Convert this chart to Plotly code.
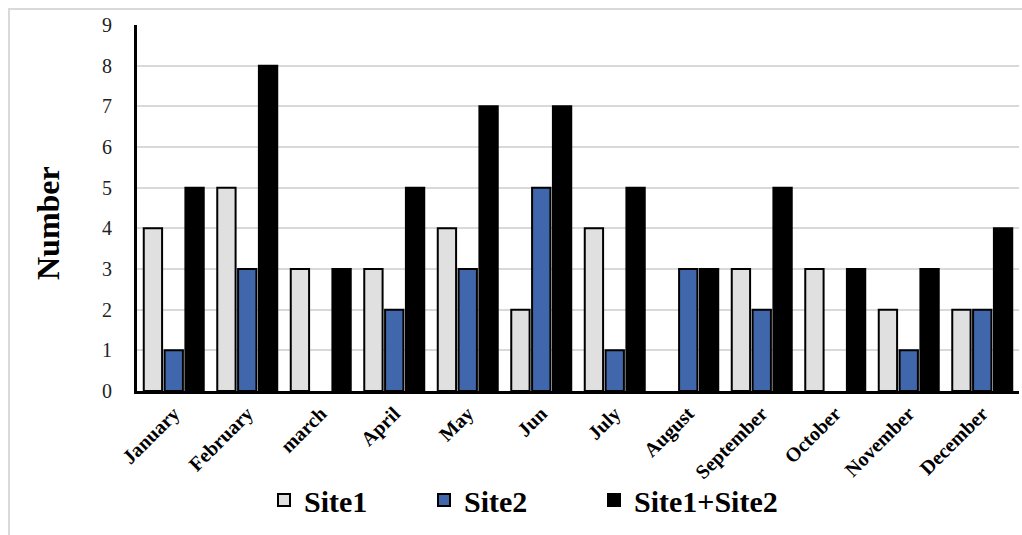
import plotly.graph_objects as go

months = ["January", "February", "march", "April", "May", "Jun", "July",
          "August", "September", "October", "November", "December"]
site1 = [4, 5, 3, 3, 4, 2, 4, 0, 3, 3, 2, 2]
site2 = [1, 3, 0, 2, 3, 5, 1, 3, 2, 0, 1, 2]
combined = [5, 8, 3, 5, 7, 7, 5, 3, 5, 3, 3, 4]

W, H = 1022, 535
L, R, T, B = 137, 3, 25, 144
PW, PH = W - L - R, H - T - B


def px_x(p):
    return (p - L) / PW


def px_y(p):
    return (H - B - p) / PH


def hide_zero(values):
    # empty months get no bar at all (no outline sitting on the axis)
    return [v if v else None for v in values]


serif = '"Liberation Serif", "Times New Roman", serif'

series = [
    ("Site1", site1, "#e0e0e0", "legend", 264),
    ("Site2", site2, "#4067ac", "legend2", 424),
    ("Site1+Site2", combined, "black", "legend3", 594),
]

fig = go.Figure()
legends = {}
for name, values, color, leg, lx in series:
    fig.add_bar(name=name, x=months, y=hide_zero(values), legend=leg,
                marker=dict(color=color, line=dict(color="black", width=2)))
    legends[leg] = dict(
        orientation="h", x=px_x(lx), xanchor="left",
        y=px_y(500), yanchor="middle", itemwidth=30,
        font=dict(family=serif, size=30, color="black", weight="bold"),
        bgcolor="rgba(0,0,0,0)",
    )

fig.update_layout(
    width=W, height=H,
    margin=dict(l=L, r=R, t=T, b=B),
    paper_bgcolor="white", plot_bgcolor="white",
    barmode="group", bargap=0.15, bargroupgap=0.12,
    font=dict(family=serif, color="black"),
    showlegend=True,
    **legends,
    xaxis=dict(
        tickangle=-45, showgrid=False, ticks="",
        showline=True, linecolor="black", linewidth=3,
        tickfont=dict(family=serif, size=20, color="black", weight="bold"),
    ),
    yaxis=dict(
        range=[0, 9], dtick=1, tick0=0, ticks="",
        showline=True, linecolor="black", linewidth=3,
        showgrid=True, gridcolor="#d9d9d9", gridwidth=1.5,
        zeroline=False,
        ticklabelstandoff=18,
        tickfont=dict(family=serif, size=20, color="#222222"),
    ),
    annotations=[dict(
        text="<b>Number</b>", textangle=-90,
        xref="paper", yref="paper", x=px_x(48), y=px_y(223),
        xanchor="center", yanchor="middle", showarrow=False,
        font=dict(family=serif, size=32, color="black"),
    )],
    shapes=[dict(
        type="rect", xref="paper", yref="paper", layer="below",
        x0=px_x(9), x1=px_x(1060), y0=px_y(580), y1=px_y(9),
        line=dict(color="#d9d9d9", width=2), fillcolor="rgba(0,0,0,0)",
    )],
)

fig.write_html("out.html")
